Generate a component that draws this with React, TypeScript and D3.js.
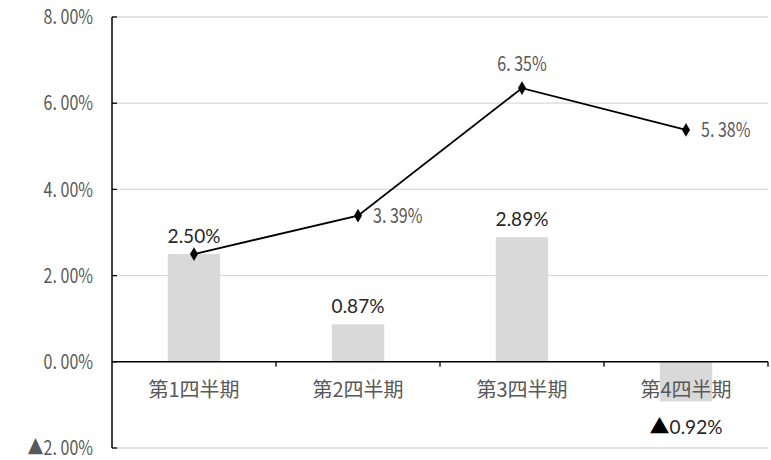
import React from "react";
import * as d3 from "d3";

const categories = ["第1四半期", "第2四半期", "第3四半期", "第4四半期"];
const barValues = [2.5, 0.87, 2.89, -0.92];
const barLabels = ["2.50%", "0.87%", "2.89%", "▲0.92%"];
const lineValues = [2.5, 3.39, 6.35, 5.38];
const lineLabels = ["", "3. 39%", "6. 35%", "5. 38%"];
const lineLabelPos = ["none", "right", "top", "right"];
const yTicks = [-2, 0, 2, 4, 6, 8];
const yTickLabels = ["▲2. 00%", "0. 00%", "2. 00%", "4. 00%", "6. 00%", "8. 00%"];

const W = 771, H = 460;
const M = { left: 112, right: 3, top: 17, bottom: 12 };

function splitTri(s: string) {
  return s.startsWith("▲") ? ["▲", s.slice(1)] : ["", s];
}

export default function App() {
  const x = d3.scaleBand().domain(categories).range([M.left, W - M.right]).paddingInner(0.68).paddingOuter(0.34);
  const xb = d3.scaleBand().domain(categories).range([M.left, W - M.right]);
  const y = d3.scaleLinear().domain([-2, 8]).range([H - M.bottom, M.top]);
  const line = d3.line<number>().x((_, i) => xb(categories[i])! + xb.bandwidth() / 2).y((d) => y(d));
  const diamond = d3.symbol().type(d3.symbolDiamond).size(55)()!;
  const narrow = "'Noto Sans CJK JP', sans-serif";
  const lab = "Lato, 'Open Sans', sans-serif";
  const sx = 0.8;
  return (
    <svg width={W} height={H} style={{ position: "absolute", left: 0, top: 0 }}>
      <rect width={W} height={H} fill="#fff" />
      {yTicks.map((t, i) => (
        <g key={t}>
          {t !== 0 && <line x1={M.left} x2={W - M.right} y1={y(t)} y2={y(t)} stroke="#d9d9d9" strokeWidth={1.3} />}
          <line x1={M.left} x2={M.left + 5} y1={y(t)} y2={y(t)} stroke="#000" strokeWidth={1.3} />
          <text x={93} y={y(t)} dy="0.36em" textAnchor="end" fontFamily={narrow} fontSize={20} fill="#595959" style={{ transform: `scaleX(${sx})`, transformBox: "fill-box", transformOrigin: "right" }}>
            {yTickLabels[i]}
          </text>
        </g>
      ))}
      {barValues.map((v, i) => (
        <rect key={i} x={x(categories[i])} width={x.bandwidth()} y={y(Math.max(0, v))} height={Math.abs(y(v) - y(0))} fill="#d9d9d9" />
      ))}
      <line x1={M.left} x2={M.left} y1={y(8)} y2={y(-2)} stroke="#000" strokeWidth={1.5} />
      <line x1={M.left} x2={W - M.right} y1={y(0)} y2={y(0)} stroke="#000" strokeWidth={1.5} />
      {categories.map((c) => (
        <line key={c} x1={xb(c)! + xb.bandwidth()} x2={xb(c)! + xb.bandwidth()} y1={y(0)} y2={y(0) + 5} stroke="#000" strokeWidth={1.3} />
      ))}
      {categories.map((c) => (
        <text key={c} x={xb(c)! + xb.bandwidth() / 2} y={y(0) + 35} textAnchor="middle" fontFamily={narrow} fontSize={20} fill="#595959">
          {c}
        </text>
      ))}
      <path d={line(lineValues)!} fill="none" stroke="#000" strokeWidth={1.8} />
      {lineValues.map((v, i) => (
        <path key={i} d={diamond} transform={`translate(${xb(categories[i])! + xb.bandwidth() / 2},${y(v)})`} fill="#000" />
      ))}
      {barValues.map((v, i) => {
        const cx = x(categories[i])! + x.bandwidth() / 2;
        const yy = v >= 0 ? y(v) - 18 : y(0) + 65;
        const [tri, rest] = splitTri(barLabels[i]);
        return (
          <text key={i} x={cx} y={yy} dy="0.36em" textAnchor="middle" fontFamily={lab} fontSize={19} fill="#262626">
            {tri && <tspan fontFamily={narrow} fontSize={20} fill="#000">{tri}</tspan>}
            <tspan>{rest}</tspan>
          </text>
        );
      })}
      {lineValues.map((v, i) => {
        if (lineLabelPos[i] === "none") return null;
        const cx = xb(categories[i])! + xb.bandwidth() / 2;
        const top = lineLabelPos[i] === "top";
        return (
          <text key={i} x={top ? cx : cx + 15} y={top ? y(v) - 24 : y(v)} dy="0.36em" textAnchor={top ? "middle" : "start"} fontFamily={narrow} fontSize={20} fill="#595959" style={{ transform: `scaleX(${sx})`, transformBox: "fill-box", transformOrigin: top ? "center" : "left" }}>
            {lineLabels[i]}
          </text>
        );
      })}
    </svg>
  );
}
